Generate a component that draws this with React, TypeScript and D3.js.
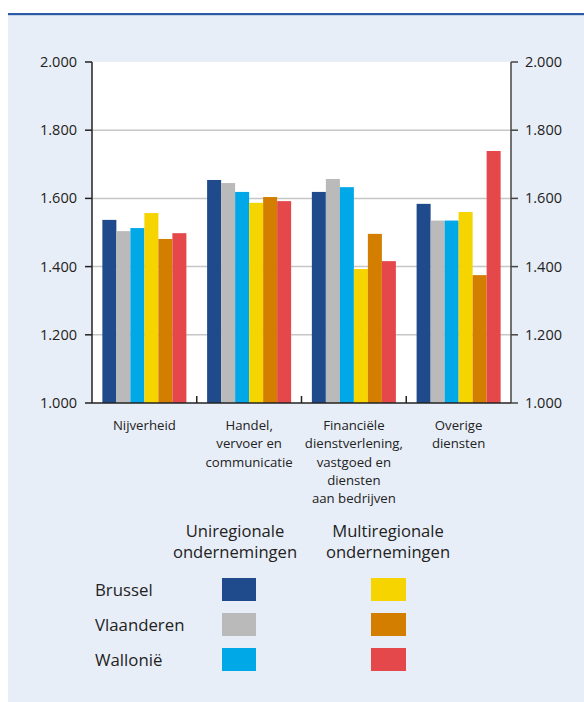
import React from "react";
import * as d3 from "d3";

const categories = [
  ["Nijverheid"],
  ["Handel,", "vervoer en", "communicatie"],
  ["Financiële", "dienstverlening,", "vastgoed en", "diensten", "aan bedrijven"],
  ["Overige", "diensten"],
];
const seriesNames = [
  "Brussel (uni)",
  "Vlaanderen (uni)",
  "Wallonië (uni)",
  "Brussel (multi)",
  "Vlaanderen (multi)",
  "Wallonië (multi)",
];
const brusselUni = [1537, 1654, 1619, 1584];
const vlaanderenUni = [1504, 1645, 1657, 1535];
const wallonieUni = [1513, 1619, 1633, 1535];
const brusselMulti = [1557, 1587, 1393, 1560];
const vlaanderenMulti = [1481, 1604, 1496, 1375];
const wallonieMulti = [1498, 1592, 1416, 1739];
const seriesValues = [brusselUni, vlaanderenUni, wallonieUni, brusselMulti, vlaanderenMulti, wallonieMulti];
const colors = ["#1F4A8C", "#BABABA", "#00A8E8", "#F5D400", "#D47E00", "#E5484A"];
const tickValues = [1000, 1200, 1400, 1600, 1800, 2000];
const tickLabels = ["1.000", "1.200", "1.400", "1.600", "1.800", "2.000"];
const regionLabels = ["Brussel", "Vlaanderen", "Wallonië"];
const legendHeads = [["Uniregionale", "ondernemingen"], ["Multiregionale", "ondernemingen"]];

const FONT = "'Open Sans', 'Noto Sans', sans-serif";
const TEXT = "#222";

export default function App() {
  const W = 584, H = 702;
  const left = 92, right = 511, top = 62, bottom = 403;
  const y = d3.scaleLinear().domain([1000, 2000]).range([bottom, top]);
  const x0 = d3.scaleBand<number>().domain(d3.range(categories.length)).range([left, right]).padding(0);
  const x1 = d3.scaleBand<number>().domain(d3.range(seriesNames.length)).range([0, x0.bandwidth()]).paddingInner(0).paddingOuter(0.74);

  return (
    <svg width={W} height={H} style={{ position: "absolute", left: 0, top: 0, display: "block" }} fontFamily={FONT}>
      <rect x={8} y={14} width={W - 8} height={H - 14} fill="#E8EEF7" />
      <rect x={8} y={13} width={W - 8} height={2.2} fill="#2D5AA4" />
      <rect x={left} y={top} width={right - left} height={bottom - top} fill="#fff" />
      {tickValues.slice(1, -1).map((t) => (
        <line key={t} x1={left} x2={right} y1={y(t)} y2={y(t)} stroke="#C6C6C6" strokeWidth={1.5} />
      ))}
      {categories.map((_, ci) =>
        seriesValues.map((vals, si) => (
          <rect
            key={`${ci}-${si}`}
            x={(x0(ci) as number) + (x1(si) as number)}
            y={y(vals[ci])}
            width={x1.bandwidth()}
            height={y(1000) - y(vals[ci])}
            fill={colors[si]}
          />
        ))
      )}
      {/* axes */}
      <line x1={left} x2={left} y1={top} y2={bottom} stroke="#222" strokeWidth={1.5} />
      <line x1={right} x2={right} y1={top} y2={bottom} stroke="#444" strokeWidth={1.5} />
      <line x1={left} x2={right} y1={bottom} y2={bottom} stroke="#222" strokeWidth={1.5} />
      {tickValues.map((t, i) => (
        <g key={t}>
          <line x1={left - 7} x2={left} y1={y(t)} y2={y(t)} stroke="#222" strokeWidth={1.5} />
          <line x1={right} x2={right + 7} y1={y(t)} y2={y(t)} stroke="#444" strokeWidth={1.5} />
          <text x={77} y={y(t)} dy="0.35em" textAnchor="end" fontSize={14.5} fill={TEXT}>{tickLabels[i]}</text>
          <text x={525} y={y(t)} dy="0.35em" textAnchor="start" fontSize={14.5} fill={TEXT}>{tickLabels[i]}</text>
        </g>
      ))}
      {d3.range(1, categories.length).map((i) => (
        <line key={i} x1={x0(i) as number} x2={x0(i) as number} y1={bottom - 7} y2={bottom} stroke="#222" strokeWidth={1.5} />
      ))}
      {categories.map((lines, ci) => (
        <text key={ci} x={(x0(ci) as number) + x0.bandwidth() / 2} y={430} textAnchor="middle" fontSize={13.2} fill={TEXT}>
          {lines.map((l, li) => (
            <tspan key={li} x={(x0(ci) as number) + x0.bandwidth() / 2} dy={li === 0 ? 0 : 18.3}>{l}</tspan>
          ))}
        </text>
      ))}
      {/* legend */}
      {legendHeads.map((lines, hi) =>
        lines.map((l, li) => (
          <text key={`${hi}-${li}`} x={hi === 0 ? 235 : 388} y={537 + li * 21} textAnchor="middle" fontSize={16.6} fill={TEXT}>
            {l}
          </text>
        ))
      )}
      {regionLabels.map((r, ri) => (
        <g key={r}>
          <text x={95} y={590 + ri * 35} dy="0.35em" fontSize={16.8} fill={TEXT}>{r}</text>
          <rect x={222} y={578 + ri * 35} width={34} height={23} fill={colors[ri]} />
          <rect x={371} y={578 + ri * 35} width={35} height={23} fill={colors[ri + 3]} />
        </g>
      ))}
    </svg>
  );
}
